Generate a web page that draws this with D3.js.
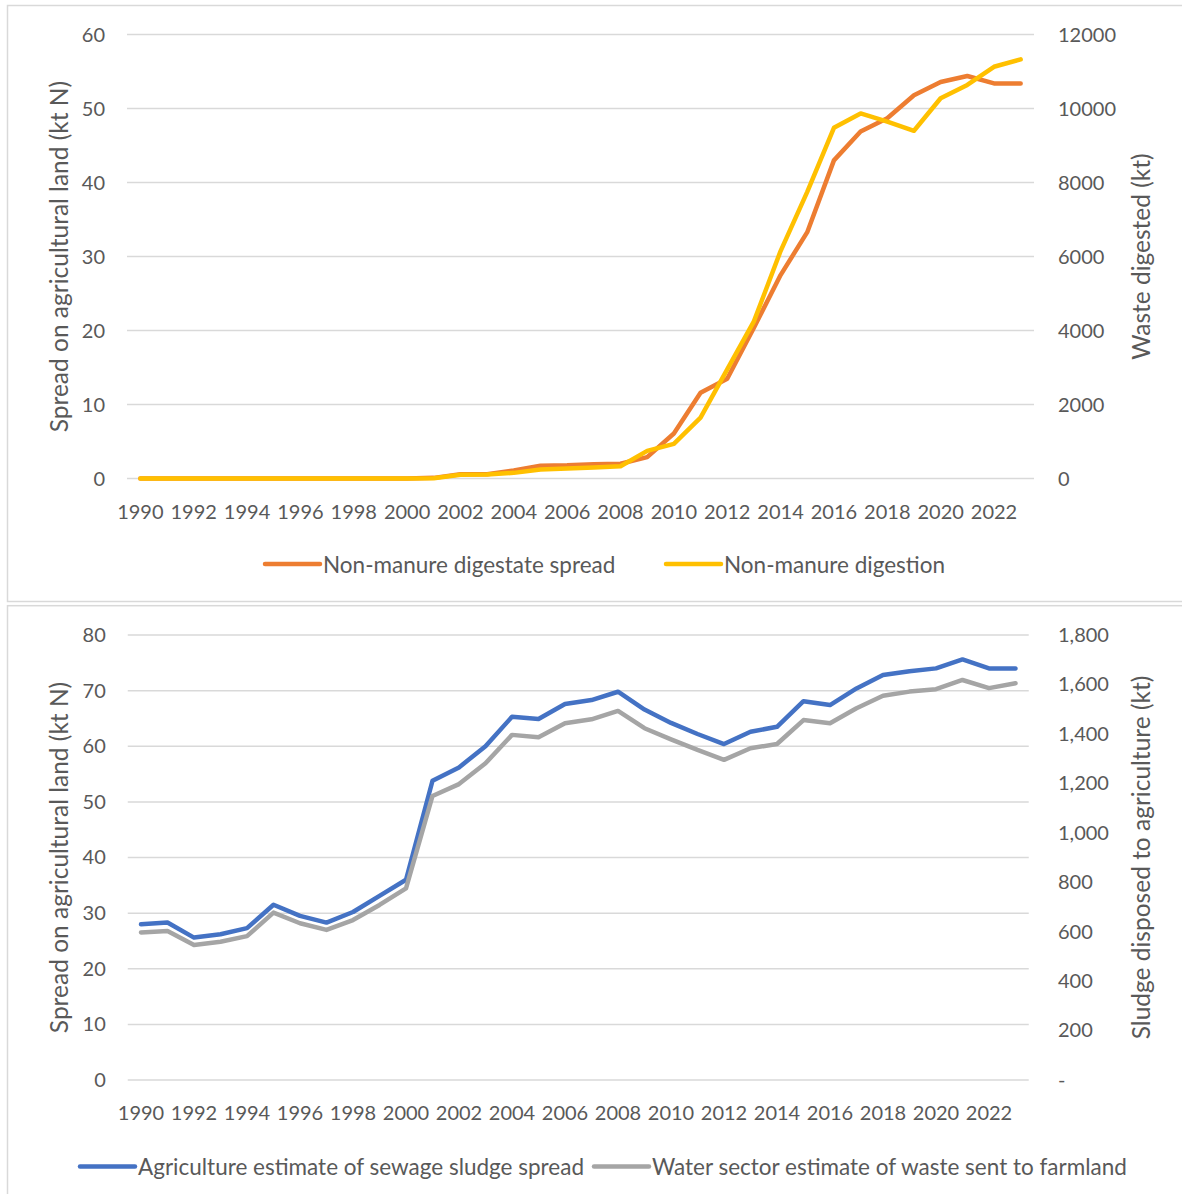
<!DOCTYPE html>
<html>
<head>
<meta charset="utf-8">
<script src="https://cdn.jsdelivr.net/npm/d3@7"></script>
<style>
  html, body { margin: 0; padding: 0; background: #fff; }
  svg { display: block; }
  text { font-family: Lato, "Open Sans", sans-serif; fill: #595959; }
</style>
</head>
<body>
<svg id="chart" width="1182" height="1194"></svg>
<script>
// Years on the category axis (shared by both panels)
const years = [1990, 1991, 1992, 1993, 1994, 1995, 1996, 1997, 1998, 1999,
               2000, 2001, 2002, 2003, 2004, 2005, 2006, 2007, 2008, 2009,
               2010, 2011, 2012, 2013, 2014, 2015, 2016, 2017, 2018, 2019,
               2020, 2021, 2022, 2023];
const yearLabels = [1990, 1992, 1994, 1996, 1998, 2000, 2002, 2004, 2006, 2008,
                    2010, 2012, 2014, 2016, 2018, 2020, 2022];

// Panel 1: non-manure anaerobic digestion
const digestateSpread = [0, 0, 0, 0, 0, 0, 0, 0, 0, 0,
                         0, 0.1, 0.6, 0.6, 1.1, 1.75, 1.8, 1.95, 2.0, 2.9,
                         6.1, 11.6, 13.5, 20.4, 27.5, 33.3, 43.0, 46.9, 48.7, 51.8,
                         53.6, 54.4, 53.4, 53.4];               // kt N
const digestion = [0, 0, 0, 0, 0, 0, 0, 0, 0, 0,
                   0, 10, 105, 110, 155, 245, 270, 300, 335, 750,
                   940, 1650, 2950, 4250, 6150, 7750, 9480, 9870, 9650, 9400,
                   10280, 10640, 11130, 11330];                 // kt
const topLeftTicks = [0, 10, 20, 30, 40, 50, 60];
const topRightTicks = [0, 2000, 4000, 6000, 8000, 10000, 12000];

// Panel 2: sewage sludge to agriculture
const sludgeSpread = [28.0, 28.3, 25.6, 26.2, 27.3, 31.5, 29.5, 28.3, 30.2, 33.1,
                      36.0, 53.8, 56.2, 60.0, 65.3, 64.9, 67.6, 68.3, 69.8, 66.6,
                      64.2, 62.2, 60.4, 62.6, 63.5, 68.1, 67.4, 70.4, 72.8, 73.5,
                      74.0, 75.6, 74.0, 74.0];                  // kt N
const waterSector = [597, 603, 546, 559, 582, 677, 634, 607, 647, 708,
                     775, 1149, 1197, 1281, 1396, 1386, 1443, 1459, 1493, 1423,
                     1378, 1335, 1295, 1342, 1359, 1456, 1443, 1504, 1554, 1571,
                     1581, 1618, 1585, 1605];                   // kt
const bottomLeftTicks = [0, 10, 20, 30, 40, 50, 60, 70, 80];
const bottomRightTicks = [0, 200, 400, 600, 800, 1000, 1200, 1400, 1600, 1800];

const svg = d3.select("#chart");
const GRID = "#d9d9d9";
const TICK_SIZE = 20, LEGEND_SIZE = 22.5, TITLE_SIZE = 24.5;

// Panel frames (open on the right, running off the page)
svg.append("rect").attr("x", 7.5).attr("y", 5.5).attr("width", 1200).attr("height", 596)
  .attr("fill", "none").attr("stroke", GRID).attr("stroke-width", 1.5);
svg.append("rect").attr("x", 7.5).attr("y", 605.7).attr("width", 1200).attr("height", 600)
  .attr("fill", "none").attr("stroke", GRID).attr("stroke-width", 1.5);

function panel(cfg) {
  const g = svg.append("g");
  const x = d3.scaleBand().domain(years).range([cfg.left, cfg.right]);
  const cx = d => x(d) + x.bandwidth() / 2;
  const yL = d3.scaleLinear().domain(cfg.leftDomain).range([cfg.bottom, cfg.top]);
  const yR = d3.scaleLinear().domain(cfg.rightDomain).range([cfg.bottom, cfg.top]);

  // horizontal gridlines on the primary axis ticks
  g.append("g").selectAll("line").data(cfg.leftTicks).join("line")
    .attr("x1", cfg.left).attr("x2", cfg.right)
    .attr("y1", d => yL(d)).attr("y2", d => yL(d))
    .attr("stroke", GRID).attr("stroke-width", 1.5);

  // left axis
  const la = g.append("g").attr("transform", `translate(${cfg.left - 22},0)`)
    .call(d3.axisLeft(yL).tickValues(cfg.leftTicks).tickSize(0).tickPadding(0));
  la.select(".domain").remove();
  la.selectAll("text").attr("font-size", TICK_SIZE).attr("fill", "#595959")
    .style("font-family", "Lato, sans-serif");

  // right axis
  const ra = g.append("g").attr("transform", `translate(${cfg.rightLabelX},0)`)
    .call(d3.axisRight(yR).tickValues(cfg.rightTicks).tickSize(0).tickPadding(0)
      .tickFormat(cfg.rightFormat));
  ra.select(".domain").remove();
  ra.selectAll("text").attr("font-size", TICK_SIZE).attr("fill", "#595959")
    .style("font-family", "Lato, sans-serif");

  // category axis
  const xa = g.append("g").attr("transform", `translate(0,${cfg.bottom})`)
    .call(d3.axisBottom(x).tickValues(yearLabels).tickSize(0).tickPadding(0));
  xa.select(".domain").remove();
  xa.selectAll("text").attr("font-size", TICK_SIZE).attr("fill", "#595959")
    .attr("y", cfg.xLabelOffset).attr("dy", 0)
    .style("font-family", "Lato, sans-serif");

  // axis titles
  const midY = (cfg.top + cfg.bottom) / 2;
  g.append("text").attr("transform", `translate(${cfg.leftTitleX},${midY}) rotate(-90)`)
    .attr("text-anchor", "middle").attr("font-size", TITLE_SIZE).text(cfg.leftTitle);
  g.append("text").attr("transform", `translate(${cfg.rightTitleX},${midY}) rotate(-90)`)
    .attr("text-anchor", "middle").attr("font-size", TITLE_SIZE).text(cfg.rightTitle);

  // series
  cfg.series.forEach(s => {
    const y = s.axis === "left" ? yL : yR;
    const line = d3.line().x((d, i) => cx(years[i])).y(d => y(d));
    g.append("path").datum(s.values).attr("d", line)
      .attr("fill", "none").attr("stroke", s.color).attr("stroke-width", 4.5)
      .attr("stroke-linejoin", "round").attr("stroke-linecap", "round");
  });

  // legend
  cfg.series.forEach(s => {
    g.append("line").attr("x1", s.legendX).attr("x2", s.legendX + 55)
      .attr("y1", cfg.legendY).attr("y2", cfg.legendY)
      .attr("stroke", s.color).attr("stroke-width", 4.5).attr("stroke-linecap", "round");
    g.append("text").attr("x", s.legendX + 58).attr("y", cfg.legendY)
      .attr("dominant-baseline", "central").attr("font-size", LEGEND_SIZE).text(s.name);
  });
}

panel({
  left: 127, right: 1034, top: 34.6, bottom: 478.6,
  leftDomain: [0, 60], rightDomain: [0, 12000],
  leftTicks: topLeftTicks, rightTicks: topRightTicks,
  rightFormat: d3.format("d"), rightLabelX: 1058,
  xLabelOffset: 40,
  leftTitle: "Spread on agricultural land (kt N)", leftTitleX: 68,
  rightTitle: "Waste digested (kt)", rightTitleX: 1150,
  legendY: 564,
  series: [
    { name: "Non-manure digestate spread", values: digestateSpread, axis: "left", color: "#ED7D31", legendX: 265 },
    { name: "Non-manure digestion", values: digestion, axis: "right", color: "#FFC000", legendX: 666 }
  ]
});

panel({
  left: 127.75, right: 1028.75, top: 635, bottom: 1080,
  leftDomain: [0, 80], rightDomain: [0, 1800],
  leftTicks: bottomLeftTicks, rightTicks: bottomRightTicks,
  rightFormat: d => d === 0 ? "-" : d3.format(",")(d), rightLabelX: 1058,
  xLabelOffset: 40,
  leftTitle: "Spread on agricultural land (kt N)", leftTitleX: 68,
  rightTitle: "Sludge disposed to agriculture (kt)", rightTitleX: 1150,
  legendY: 1166.5,
  series: [
    { name: "Agriculture estimate of sewage sludge spread", values: sludgeSpread, axis: "left", color: "#4472C4", legendX: 80 },
    { name: "Water sector estimate of waste sent to farmland", values: waterSector, axis: "right", color: "#A5A5A5", legendX: 594 }
  ]
});
</script>
</body>
</html>
